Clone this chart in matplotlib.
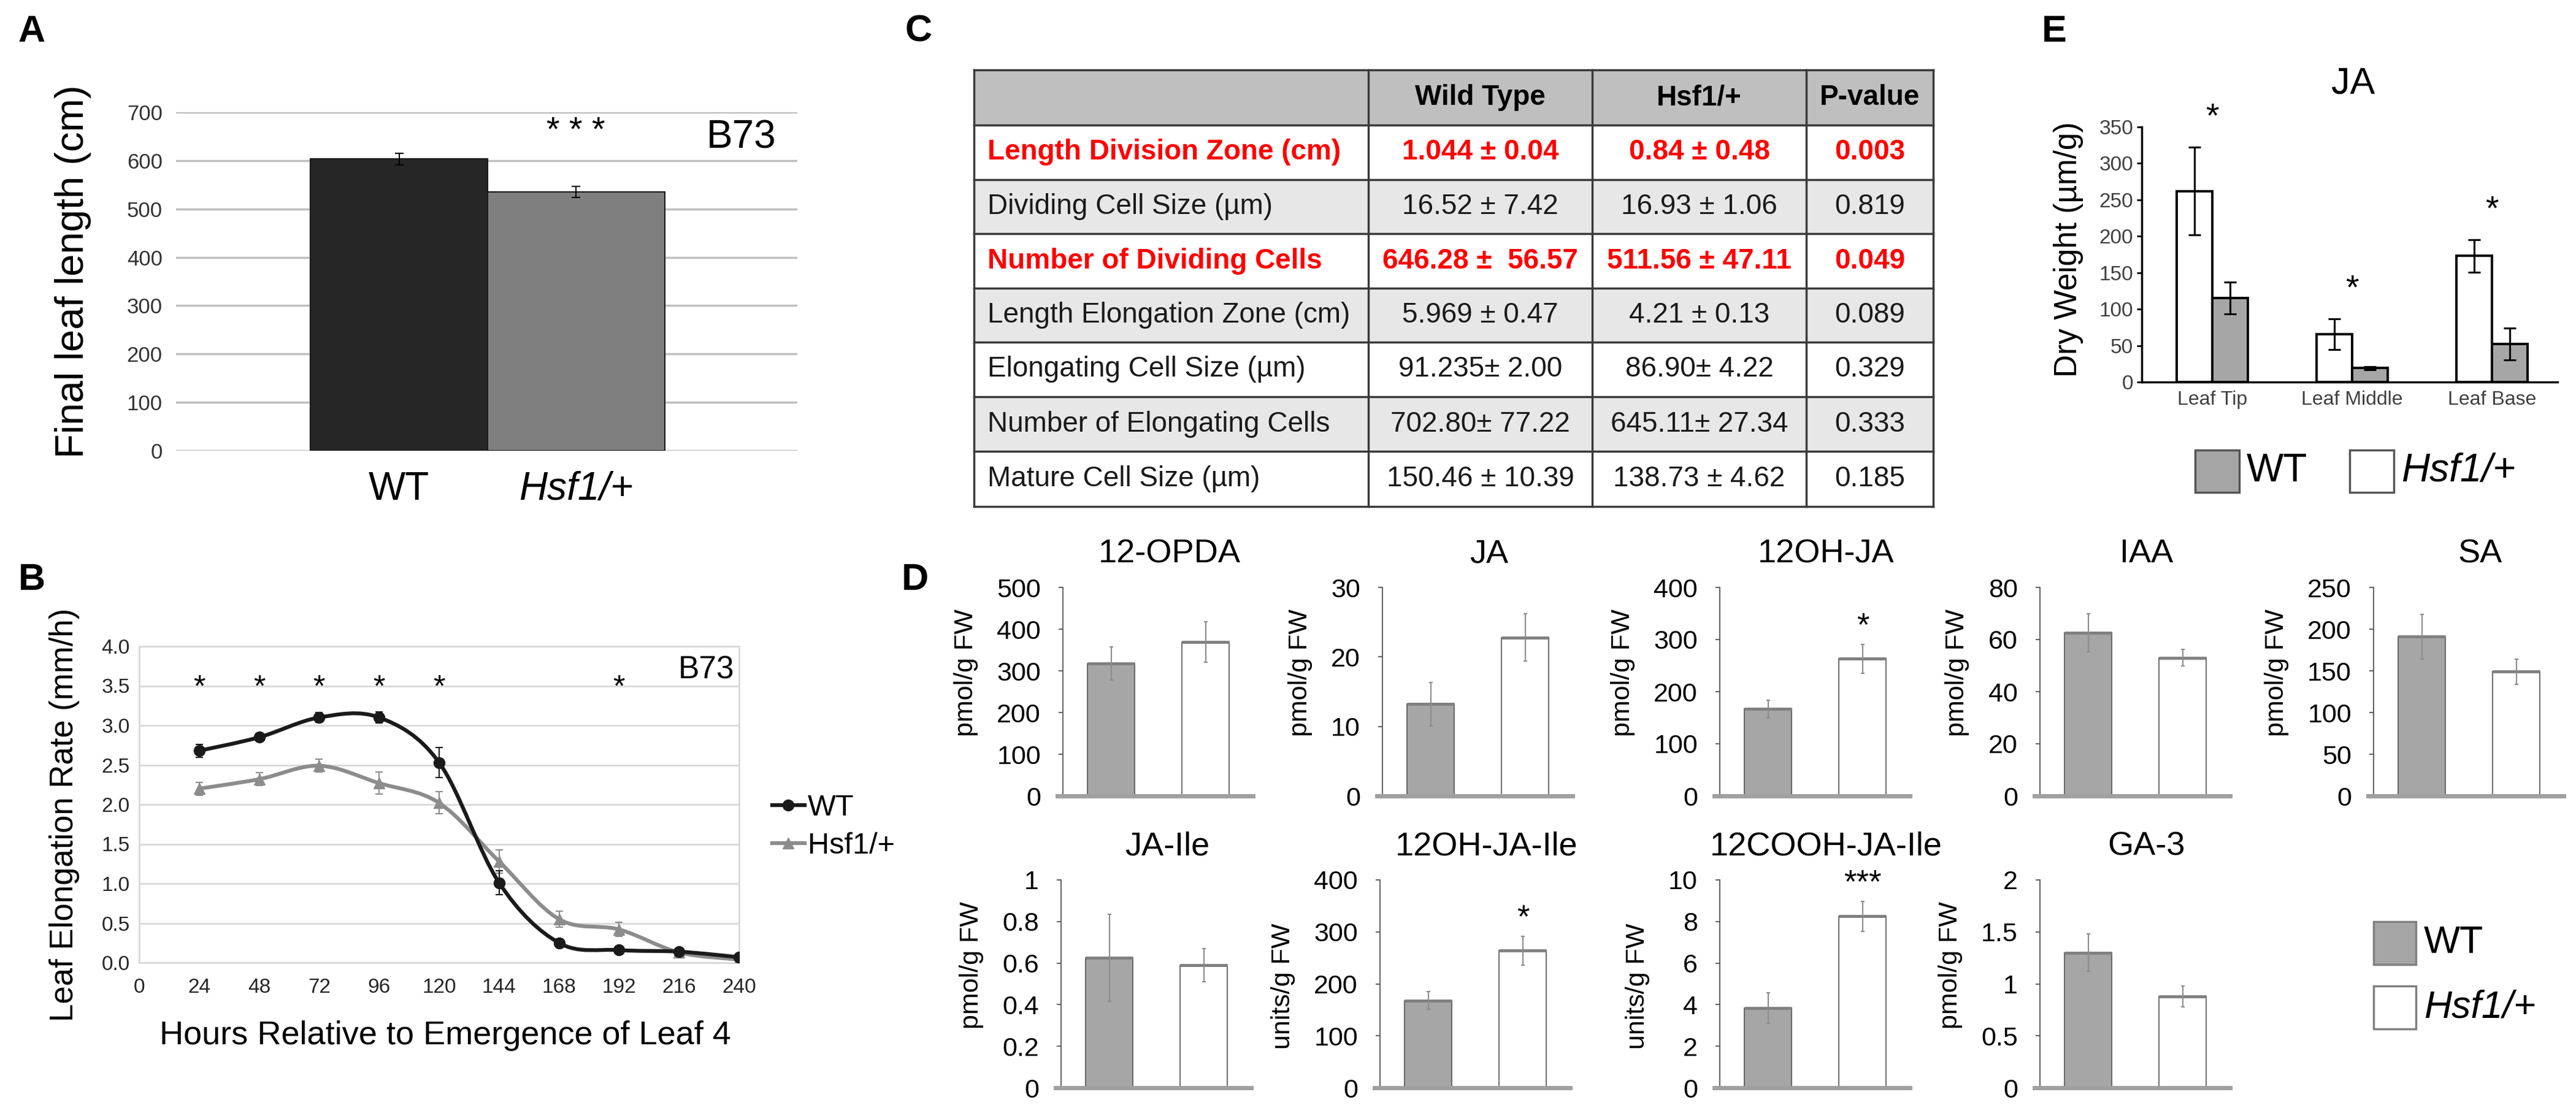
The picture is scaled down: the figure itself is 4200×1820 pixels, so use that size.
import numpy as np
import matplotlib
matplotlib.use('Agg')
import matplotlib.pyplot as plt
from matplotlib.patches import Rectangle, PathPatch
from matplotlib.path import Path
from matplotlib.lines import Line2D

plt.rcParams['font.family'] = ['Liberation Sans', 'DejaVu Sans']

W, H = 4200, 1820

# ---- data ----
# A: final leaf length
a_groups = ['WT', 'Hsf1/+']
a_vals = [603, 535]
a_err = [12, 11]

# B: leaf elongation rate
b_hours = [24, 48, 72, 96, 120, 144, 168, 192, 216, 240]
b_wt = [2.68, 2.85, 3.10, 3.10, 2.53, 1.01, 0.25, 0.16, 0.14, 0.07]
b_wt_err = [0.08, 0.05, 0.06, 0.07, 0.19, 0.15, 0.05, 0.03, 0.03, 0.03]
b_hsf = [2.20, 2.32, 2.49, 2.27, 2.02, 1.28, 0.55, 0.42, 0.13, 0.04]
b_hsf_err = [0.08, 0.08, 0.08, 0.14, 0.14, 0.15, 0.10, 0.09, 0.03, 0.02]
b_sig_hours = [24, 48, 72, 96, 120, 192]

# C: table
c_header = ['', 'Wild Type', 'Hsf1/+', 'P-value']
c_rows = ['Length Division Zone (cm)', 'Dividing Cell Size (µm)', 'Number of Dividing Cells',
          'Length Elongation Zone (cm)', 'Elongating Cell Size (µm)',
          'Number of Elongating Cells', 'Mature Cell Size (µm)']
c_wt = ['1.044 ± 0.04', '16.52 ± 7.42', '646.28 ±  56.57', '5.969 ± 0.47',
        '91.235± 2.00', '702.80± 77.22', '150.46 ± 10.39']
c_hsf = ['0.84 ± 0.48', '16.93 ± 1.06', '511.56 ± 47.11', '4.21 ± 0.13',
         '86.90± 4.22', '645.11± 27.34', '138.73 ± 4.62']
c_p = ['0.003', '0.819', '0.049', '0.089', '0.329', '0.333', '0.185']
c_red = [True, False, True, False, False, False, False]

# D: hormone levels
d_names = ['12-OPDA', 'JA', '12OH-JA', 'IAA', 'SA',
           'JA-Ile', '12OH-JA-Ile', '12COOH-JA-Ile', 'GA-3']
d_wt = [318, 13.2, 167, 62.6, 191, 0.626, 168, 3.84, 1.30]
d_wt_err = [40, 3.1, 17, 7.2, 27, 0.21, 17, 0.73, 0.18]
d_hsf = [369, 22.8, 263, 53.0, 149, 0.589, 264, 8.25, 0.88]
d_hsf_err = [49, 3.4, 28, 3.2, 15, 0.08, 28, 0.72, 0.10]
d_ymax = [500, 30, 400, 80, 250, 1, 400, 10, 2]
d_step = [100, 10, 100, 20, 50, 0.2, 100, 2, 0.5]
d_units = ['pmol/g FW'] * 6 + ['units/g FW'] * 2 + ['pmol/g FW']
d_sig = ['', '', '*', '', '', '', '*', '***', '']

# E: JA along the leaf
e_parts = ['Leaf Tip', 'Leaf Middle', 'Leaf Base']
e_hsf = [262, 66, 173]
e_hsf_err = [60, 21, 22]
e_wt = [115, 19, 52]
e_wt_err = [22, 2, 22]

GRAY = '#a6a6a6'


def rect(l, t, r, b):
    return [l / W, 1 - b / H, (r - l) / W, (b - t) / H]


def smooth_path(x, y):
    # Excel-like smoothed line (Catmull-Rom as cubic Bezier)
    pts = np.column_stack([x, y]).astype(float)
    n = len(pts)
    verts, codes = [pts[0]], [Path.MOVETO]
    for i in range(n - 1):
        p0 = pts[i - 1] if i > 0 else pts[i]
        p1, p2 = pts[i], pts[i + 1]
        p3 = pts[i + 2] if i + 2 < n else pts[i + 1]
        verts += [p1 + (p2 - p0) / 6, p2 - (p3 - p1) / 6, p2]
        codes += [Path.CURVE4] * 3
    return Path(verts, codes)


fig = plt.figure(figsize=(W / 100, H / 100), dpi=100)

# overlay axes in pixel coords for table, panel letters, legends
ax0 = fig.add_axes([0, 0, 1, 1])
ax0.set_xlim(0, W)
ax0.set_ylim(H, 0)
ax0.axis('off')

for letter, (x, y) in zip('ABCDE', [(52, 52), (52, 946), (1498, 52), (1492, 946), (3349, 52)]):
    ax0.text(x, y, letter, fontsize=44, fontweight='bold', ha='center', va='center')

# ---- A ----
axA = fig.add_axes(rect(287, 183, 1300, 735))
axA.bar([0, 1], a_vals, width=1, color=['#262626', '#7f7f7f'], edgecolor='#1a1a1a',
        linewidth=1.5, zorder=3)
axA.errorbar([0, 1], a_vals, yerr=a_err, fmt='none', ecolor='black', elinewidth=1.5,
             capsize=5, capthick=1.5, zorder=4)
axA.set_xlim(-1.26, 2.25)
axA.set_ylim(0, 700)
axA.set_yticks(range(0, 701, 100))
axA.grid(axis='y', color='#bfbfbf', linewidth=2.5, zorder=0)
axA.set_axisbelow(True)
for s in axA.spines.values():
    s.set_visible(False)
axA.tick_params(axis='y', length=0, labelsize=25, labelcolor='#333333', pad=16)
axA.set_xticks([0, 1])
axA.set_xticklabels(a_groups, fontsize=46)
axA.get_xticklabels()[1].set_style('italic')
axA.tick_params(axis='x', length=0, pad=24)
axA.set_ylabel('Final leaf length (cm)', fontsize=47)
axA.yaxis.set_label_coords(-0.136, 0.529)
axA.text(1, 659, '* * *', fontsize=40, ha='center', va='center')
axA.text(2.13, 648, 'B73', fontsize=46, ha='right', va='center')

# ---- B ----
axB = fig.add_axes(rect(227, 1054, 1205, 1570))
axB.set_xlim(0, 240)
axB.set_ylim(0, 4)
axB.set_xticks(range(0, 241, 24))
axB.set_yticks(np.arange(0, 4.01, 0.5))
axB.set_yticklabels([f'{v:.1f}' for v in np.arange(0, 4.01, 0.5)])
axB.grid(axis='y', color='#d9d9d9', linewidth=2)
axB.set_axisbelow(True)
for s in axB.spines.values():
    s.set_color('#d9d9d9')
    s.set_linewidth(2)
axB.tick_params(length=0, labelsize=24, labelcolor='#262626')
axB.tick_params(axis='y', pad=11)
axB.tick_params(axis='x', pad=18)
for ys, es, col, mk in [(b_hsf, b_hsf_err, '#8c8c8c', '^'), (b_wt, b_wt_err, '#1a1a1a', 'o')]:
    axB.add_patch(PathPatch(smooth_path(b_hours, ys), fill=False, edgecolor=col,
                            linewidth=4.5, zorder=3))
    axB.errorbar(b_hours, ys, yerr=es, fmt='none', ecolor=col, elinewidth=1.5,
                 capsize=4, capthick=1.5, zorder=4)
    axB.plot(b_hours, ys, linestyle='none', marker=mk, markersize=13, color=col, zorder=5)
for h in b_sig_hours:
    axB.text(h, 3.47, '*', fontsize=36, ha='center', va='center')
axB.text(238, 3.70, 'B73', fontsize=37, ha='right', va='center')
axB.set_ylabel('Leaf Elongation Rate (mm/h)', fontsize=38)
axB.yaxis.set_label_coords(-0.099, 0.467)
axB.set_xlabel('Hours Relative to Emergence of Leaf 4', fontsize=39)
axB.xaxis.set_label_coords(0.51, -0.182)
b_handles = [Line2D([], [], color='#1a1a1a', marker='o', markersize=13, linewidth=4.5),
             Line2D([], [], color='#8c8c8c', marker='^', markersize=13, linewidth=4.5)]
axB.legend(b_handles, a_groups, loc='center left', bbox_to_anchor=(1.01, 0.43),
           frameon=False, fontsize=35, handlelength=1.1, handletextpad=0.1,
           labelspacing=0.35)

# ---- C: table ----
col_x = [1588, 2231, 2596, 2945, 3152]
row_y = [114, 204, 293, 381, 470, 558, 647, 736, 826]
row_fill = ['#bfbfbf', 'white', '#e7e7e7', 'white', '#e7e7e7', 'white', '#e7e7e7', 'white']
for r in range(8):
    ax0.add_patch(Rectangle((col_x[0], row_y[r]), col_x[-1] - col_x[0],
                            row_y[r + 1] - row_y[r], facecolor=row_fill[r],
                            edgecolor='none'))
for y in row_y:
    ax0.plot([col_x[0], col_x[-1]], [y, y], color='#3a3a3a', linewidth=2.5,
             solid_capstyle='projecting')
for x in col_x:
    ax0.plot([x, x], [row_y[0], row_y[-1]], color='#3a3a3a', linewidth=2.5,
             solid_capstyle='projecting')
col_cx = [(col_x[i] + col_x[i + 1]) / 2 for i in range(4)]
hy = (row_y[0] + row_y[1]) / 2
for i in range(1, 4):
    ax0.text(col_cx[i], hy, c_header[i], fontsize=33, fontweight='bold',
             ha='center', va='center')
for r in range(7):
    cy = (row_y[r + 1] + row_y[r + 2]) / 2
    color = '#ff0000' if c_red[r] else '#1a1a1a'
    weight = 'bold' if c_red[r] else 'normal'
    ax0.text(1610, cy, c_rows[r], fontsize=33, color=color, fontweight=weight,
             ha='left', va='center')
    for i, val in zip(range(1, 4), [c_wt[r], c_hsf[r], c_p[r]]):
        ax0.text(col_cx[i], cy, val, fontsize=33, color=color, fontweight=weight,
                 ha='center', va='center')

# ---- D ----
d_lefts = [1733, 2254, 2804, 3326, 3870, 1730, 2250, 2804, 3326]
d_tops = [958] * 5 + [1435] * 4
d_bots = [1298] * 5 + [1774] * 4
for k in range(9):
    ax = fig.add_axes(rect(d_lefts[k], d_tops[k], d_lefts[k] + 310, d_bots[k]))
    vals = [d_wt[k], d_hsf[k]]
    errs = [d_wt_err[k], d_hsf_err[k]]
    ax.bar([0, 1], vals, width=0.5, color=[GRAY, 'white'], edgecolor='#555555',
           linewidth=1.2, zorder=2)
    ax.hlines(vals, [-0.25, 0.75], [0.25, 1.25], color='#808080', linewidth=3.5, zorder=3)
    ax.errorbar([0, 1], vals, yerr=errs, fmt='none', ecolor='#8c8c8c', elinewidth=1.5,
                capsize=2.5, capthick=1.5, zorder=4)
    ax.set_xlim(-0.51, 1.5)
    ax.set_ylim(0, d_ymax[k])
    ticks = np.arange(0, d_ymax[k] + d_step[k] / 2, d_step[k])
    ax.set_yticks(ticks)
    ax.set_yticklabels([f'{t:g}' for t in ticks])
    ax.set_xticks([])
    for s in ['top', 'right']:
        ax.spines[s].set_visible(False)
    ax.spines['left'].set_color('#555555')
    ax.spines['left'].set_linewidth(1.3)
    ax.spines['bottom'].set_color('#a0a0a0')
    ax.spines['bottom'].set_linewidth(5)
    ax.spines['bottom'].set_bounds(-0.57, 1.5)
    ax.tick_params(axis='y', direction='out', length=5, width=1.3, color='#555555',
                   labelsize=31, pad=21)
    ax.set_ylabel(d_units[k], fontsize=31, labelpad=22)
    ax.yaxis.label.set_y(0.49 if d_units[k].startswith('units') else 0.59)
    ax.text(0.56, 1 + 55 / 340, d_names[k], transform=ax.transAxes, fontsize=39,
            ha='center', va='center')
    if d_sig[k]:
        ax.text(1, d_hsf[k] + d_hsf_err[k] + 0.085 * d_ymax[k], d_sig[k], fontsize=38,
                ha='center', va='center')

# D legend
for (y0, y1, fc), lab in zip([(1503, 1573, GRAY), (1608, 1678, 'white')], a_groups):
    ax0.add_patch(Rectangle((3870, y0), 69, y1 - y0, facecolor=fc, edgecolor='#808080',
                            linewidth=2.5))
    ax0.text(3952, (y0 + y1) / 2, lab, fontsize=45, ha='left', va='center',
             style='italic' if lab != 'WT' else 'normal')

# ---- E ----
axE = fig.add_axes(rect(3492, 207, 4170, 623))
xe = np.arange(len(e_parts))
bw = 0.254
axE.bar(xe - bw / 2, e_hsf, width=bw, color='white', edgecolor='black', linewidth=2.8, zorder=2)
axE.bar(xe + bw / 2, e_wt, width=bw, color=GRAY, edgecolor='black', linewidth=2.8, zorder=2)
axE.errorbar(xe - bw / 2, e_hsf, yerr=e_hsf_err, fmt='none', ecolor='black', elinewidth=2.2,
             capsize=7, capthick=2.2, zorder=3)
axE.errorbar(xe + bw / 2, e_wt, yerr=e_wt_err, fmt='none', ecolor='black', elinewidth=2.2,
             capsize=7, capthick=2.2, zorder=3)
axE.set_xlim(-0.504, 2.47)
axE.set_ylim(0, 350)
axE.set_yticks(range(0, 351, 50))
for s in ['top', 'right']:
    axE.spines[s].set_visible(False)
for s in ['left', 'bottom']:
    axE.spines[s].set_linewidth(2.5)
axE.tick_params(axis='y', direction='out', length=6, width=2, labelsize=24,
                labelcolor='#404040', pad=4)
axE.set_xticks(xe)
axE.set_xticklabels(e_parts, fontsize=23, color='#404040')
axE.tick_params(axis='x', length=0, pad=10)
axE.set_ylabel('Dry Weight (µm/g)', fontsize=37)
axE.yaxis.set_label_coords(-0.14, 0.52)
axE.text(0.509, 1 + 70 / 416, 'JA', transform=axE.transAxes, fontsize=44,
         ha='center', va='center')
for i in range(len(e_parts)):
    top = max(e_hsf[i] + e_hsf_err[i], e_wt[i] + e_wt_err[i])
    axE.text(xe[i], top + 40, '*', fontsize=40, ha='center', va='center')

# E legend
for (x0, fc), lab in zip([(3579, GRAY), (3831, 'white')], a_groups):
    ax0.add_patch(Rectangle((x0, 734), 72, 69, facecolor=fc, edgecolor='#555555',
                            linewidth=2.5))
    ax0.text(x0 + 84, 768, lab, fontsize=46, ha='left', va='center',
             style='italic' if lab != 'WT' else 'normal')

fig.savefig('out.png', dpi=100)
